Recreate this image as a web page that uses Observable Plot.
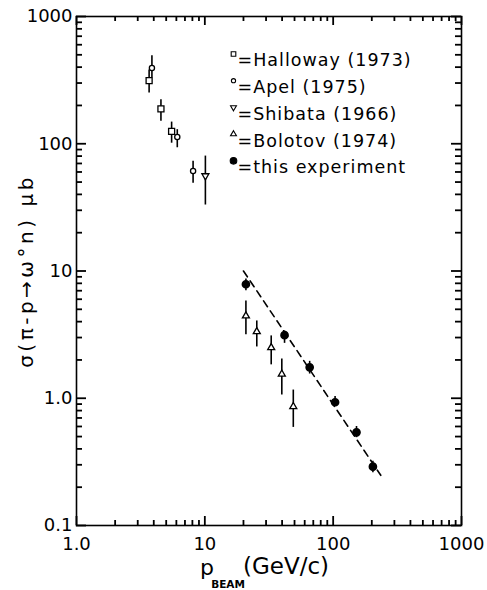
<!DOCTYPE html>
<html><head><meta charset="utf-8">
<script src="https://cdn.jsdelivr.net/npm/d3@7"></script>
<script src="https://cdn.jsdelivr.net/npm/@observablehq/plot@0.6"></script>
<style>body{margin:0;background:#fff} svg{display:block}</style>
</head><body><div id="chart"></div>
<script>
// ---- data ----
const hallowayP  = [3.68, 4.55, 5.51];
const hallowayS  = [313, 188, 125];
const hallowayLo = [250, 150, 101];
const hallowayHi = [380, 222, 148];

const apelP  = [3.87, 6.1, 8.1];
const apelS  = [394, 113, 61];
const apelLo = [330, 93, 49];
const apelHi = [492, 129, 73];

const shibataP  = [10.1];
const shibataS  = [56];
const shibataLo = [33];
const shibataHi = [80];

const bolotovP  = [20.9, 25.4, 32.9, 39.8, 48.9];
const bolotovS  = [4.44, 3.34, 2.5, 1.55, 0.86];
const bolotovLo = [3.15, 2.53, 1.83, 1.06, 0.59];
const bolotovHi = [5.82, 4.05, 3.09, 2.03, 1.16];

const thisP  = [20.9, 41.8, 65.6, 103.5, 152, 204];
const thisS  = [7.87, 3.13, 1.75, 0.93, 0.54, 0.29];
const thisLo = [7.0, 2.7, 1.55, 0.86, 0.49, 0.26];
const thisHi = [8.65, 3.37, 1.95, 1.03, 0.6, 0.32];

const fitP = [20, 235];
const fitS = [10, 0.248];

const legendLabels = ["=Halloway (1973)", "=Apel (1975)", "=Shibata (1966)", "=Bolotov (1974)", "=this experiment"];

const xMajor = [1, 10, 100, 1000];
const xMajorLabels = ["1.0", "10", "100", "1000"];
const yMajor = [0.1, 1, 10, 100, 1000];
const yMajorLabels = ["0.1", "1.0", "10", "100", "1000"];
const minorMultipliers = [2, 3, 4, 5, 6, 7, 8, 9];
const xMinor = [1, 10, 100].flatMap(d => minorMultipliers.map(m => d * m));
const yMinor = [0.1, 1, 10, 100].flatMap(d => minorMultipliers.map(m => d * m));

const yTitle = "σ(π-p→ω°n) μb";

// ---- helpers ----
const table = (P, S, Lo, Hi) => P.map((p, i) => ({p, s: S[i], lo: Lo[i], hi: Hi[i]}));
const halloway = table(hallowayP, hallowayS, hallowayLo, hallowayHi);
const apel = table(apelP, apelS, apelLo, apelHi);
const shibata = table(shibataP, shibataS, shibataLo, shibataHi);
const bolotov = table(bolotovP, bolotovS, bolotovLo, bolotovHi);
const thisExp = table(thisP, thisS, thisLo, thisHi);
const fit = fitP.map((p, i) => ({p, s: fitS[i]}));

const triUp = {draw(ctx, size) {
  const y = -Math.sqrt(size / (Math.sqrt(3) * 3));
  ctx.moveTo(0, 2 * y); ctx.lineTo(-Math.sqrt(3) * y, -y); ctx.lineTo(Math.sqrt(3) * y, -y); ctx.closePath();
}};
const triDown = {draw(ctx, size) {
  const y = -Math.sqrt(size / (Math.sqrt(3) * 3));
  ctx.moveTo(0, -2 * y); ctx.lineTo(-Math.sqrt(3) * y, y); ctx.lineTo(Math.sqrt(3) * y, y); ctx.closePath();
}};

const xMap = new Map(xMajor.map((d, i) => [d, xMajorLabels[i]]));
const yMap = new Map(yMajor.map((d, i) => [d, yMajorLabels[i]]));

const errBar = (data) => Plot.ruleX(data, {x: "p", y1: "lo", y2: "hi", stroke: "black", strokeWidth: 1.6});

const legendSymbols = [
  {symbol: "square", r: 2.6, fill: "white"},
  {symbol: "circle", r: 2.1, fill: "white"},
  {symbol: triDown, r: 2.2, fill: "white"},
  {symbol: triUp, r: 2.2, fill: "white"},
  {symbol: "circle", r: 3.3, fill: "black"}
];
const legendMarks = legendLabels.flatMap((label, i) => [
  Plot.dot([label], {frameAnchor: "top-left", dx: 157, dy: 37.5 + i * 26.7, symbol: legendSymbols[i].symbol, r: legendSymbols[i].r, fill: legendSymbols[i].fill, stroke: "black", strokeWidth: 1.1}),
  Plot.text([label], {frameAnchor: "top-left", dx: 161, dy: 37.5 + i * 26.7, text: d => d, textAnchor: "start", fontSize: 17.5})
]);

// layout
const W = 487, H = 590, mL = 76, mR = 26, mT = 16, mB = 65;
const xDomain = [1, 1000], yDomain = [0.1, 1000];
const pxPerDecadeX = (W - mL - mR) / 3, pxPerDecadeY = (H - mT - mB) / 4;
// inward tick lengths (px) expressed as a factor along each log axis
const fx = px => Math.pow(10, px / pxPerDecadeX);
const fy = px => Math.pow(10, px / pxPerDecadeY);
const tk = {stroke: "black", strokeWidth: 1.8};
const inwardTicks = [
  Plot.ruleX(xMinor, {...tk, x: d => d, y1: yDomain[0], y2: yDomain[0] * fy(5)}),
  Plot.ruleX(xMajor, {...tk, x: d => d, y1: yDomain[0], y2: yDomain[0] * fy(9)}),
  Plot.ruleX(xMinor, {...tk, x: d => d, y1: yDomain[1], y2: yDomain[1] / fy(5)}),
  Plot.ruleX(xMajor, {...tk, x: d => d, y1: yDomain[1], y2: yDomain[1] / fy(9)}),
  Plot.ruleY(yMinor, {...tk, y: d => d, x1: xDomain[0], x2: xDomain[0] * fx(6)}),
  Plot.ruleY(yMajor, {...tk, y: d => d, x1: xDomain[0], x2: xDomain[0] * fx(10)}),
  Plot.ruleY(yMinor, {...tk, y: d => d, x1: xDomain[1], x2: xDomain[1] / fx(6)}),
  Plot.ruleY(yMajor, {...tk, y: d => d, x1: xDomain[1], x2: xDomain[1] / fx(10)})
];

const font = "DejaVu Sans, sans-serif";

const chart = Plot.plot({
  width: W,
  height: H,
  marginLeft: mL,
  marginRight: mR,
  marginTop: mT,
  marginBottom: mB,
  style: {fontFamily: font, fontSize: "17px", color: "black", background: "white"},
  x: {type: "log", domain: xDomain},
  y: {type: "log", domain: yDomain},
  marks: [
    Plot.frame({stroke: "black", strokeWidth: 1.6}),
    ...inwardTicks,
    // tick labels
    Plot.axisX({ticks: xMajor, anchor: "bottom", tickSize: 0, tickPadding: 12, tickFormat: d => xMap.get(d), label: null, fontSize: 18}),
    Plot.axisY({ticks: yMajor, anchor: "left", tickSize: 0, tickPadding: 4, tickFormat: d => yMap.get(d), label: null, fontSize: 18}),
    // titles
    Plot.text([yTitle], {frameAnchor: "left", rotate: -90, dx: -50, dy: 0, text: d => d, textAnchor: "middle", fontSize: 20}),
    Plot.text(["p"], {frameAnchor: "bottom", dx: -62, dy: 49, text: d => d, fontSize: 22}),
    Plot.text(["BEAM"], {frameAnchor: "bottom", dx: -41, dy: 62, text: d => d, fontSize: 10.5, fontWeight: "bold"}),
    Plot.text(["(GeV/c)"], {frameAnchor: "bottom", dx: -26, dy: 48, text: d => d, textAnchor: "start", fontSize: 23}),
    // fit
    Plot.line(fit, {x: "p", y: "s", stroke: "black", strokeWidth: 1.6, strokeDasharray: "7,5"}),
    // error bars
    errBar(halloway), errBar(apel), errBar(shibata), errBar(bolotov), errBar(thisExp),
    // markers
    Plot.dot(halloway, {x: "p", y: "s", symbol: "square", r: 3.4, fill: "white", stroke: "black", strokeWidth: 1.3}),
    Plot.dot(apel, {x: "p", y: "s", r: 2.6, fill: "white", stroke: "black", strokeWidth: 1.3}),
    Plot.dot(shibata, {x: "p", y: "s", symbol: triDown, r: 2.6, fill: "white", stroke: "black", strokeWidth: 1.3}),
    Plot.dot(bolotov, {x: "p", y: "s", symbol: triUp, r: 2.6, fill: "white", stroke: "black", strokeWidth: 1.3}),
    Plot.dot(thisExp, {x: "p", y: "s", r: 3.6, fill: "black", stroke: "black"}),
    ...legendMarks
  ]
});
// widen the lettering like the typeset original
const svg = d3.select(chart);
svg.selectAll("text")
  .filter(function() { return legendLabels.includes(this.textContent); })
  .style("letter-spacing", "1px");
svg.selectAll("text")
  .filter(function() { return this.textContent === yTitle; })
  .style("letter-spacing", "3.5px");
document.getElementById("chart").appendChild(chart);
</script>
</body></html>
